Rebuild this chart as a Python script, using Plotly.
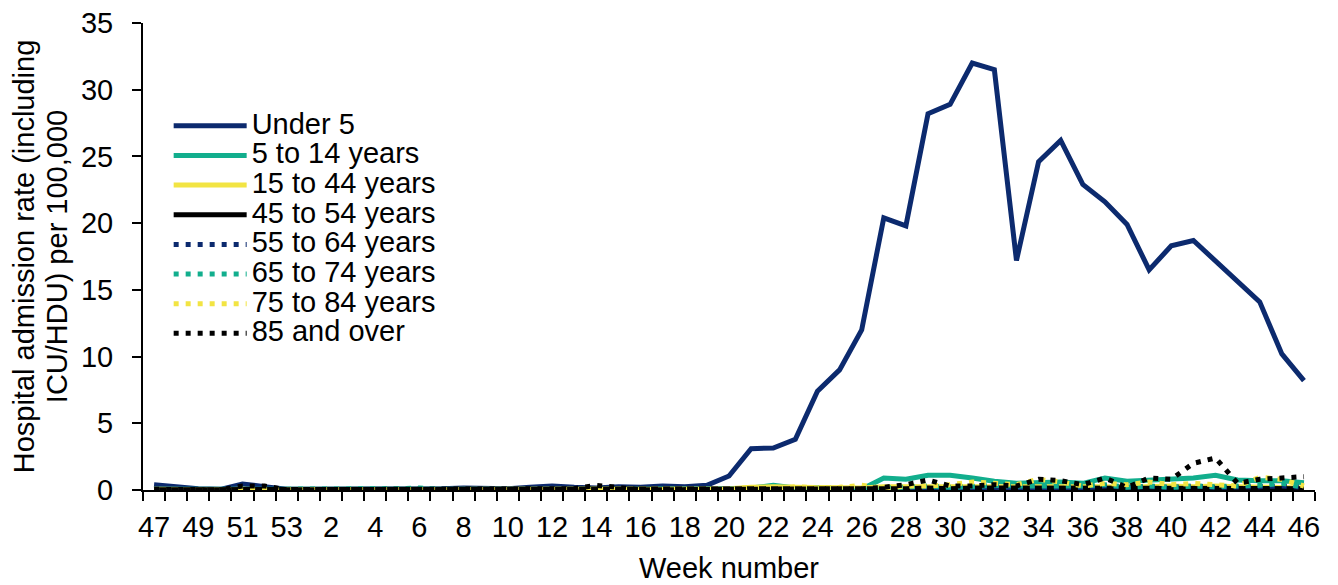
import plotly.graph_objects as go

# ---- data -------------------------------------------------------------
weeks = [str(w) for w in [47, 48, 49, 50, 51, 52, 53,
                          1, 2, 3, 4, 5, 6, 7, 8, 9, 10, 11, 12, 13, 14, 15, 16, 17, 18, 19,
                          20, 21, 22, 23, 24, 25, 26, 27, 28, 29, 30, 31, 32, 33, 34, 35, 36,
                          37, 38, 39, 40, 41, 42, 43, 44, 45, 46]]

tick_labels = ["47", "", "49", "", "51", "", "53",
               "", "2", "", "4", "", "6", "", "8", "", "10", "", "12", "", "14", "", "16", "", "18", "",
               "20", "", "22", "", "24", "", "26", "", "28", "", "30", "", "32", "", "34", "", "36",
               "", "38", "", "40", "", "42", "", "44", "", "46"]

under5 = [0.40, 0.25, 0.10, 0.05, 0.45, 0.25, 0.05,
          0.05, 0.05, 0.05, 0.05, 0.05, 0.05, 0.10, 0.15, 0.10, 0.10, 0.20, 0.30, 0.20, 0.15, 0.25, 0.20, 0.30, 0.25, 0.35,
          1.05, 3.10, 3.15, 3.80, 7.40, 9.00, 12.00, 20.40, 19.80, 28.20, 28.90, 32.00, 31.50, 17.20, 24.60, 26.20, 22.90,
          21.60, 19.90, 16.50, 18.30, 18.70, 17.20, 15.60, 14.10, 10.20, 8.20]

age5_14 = [0.05, 0.05, 0.02, 0.02, 0.05, 0.05, 0.02,
           0.02, 0.02, 0.02, 0.02, 0.05, 0.08, 0.05, 0.02, 0.02, 0.02, 0.05, 0.05, 0.02, 0.02, 0.05, 0.05, 0.05, 0.05, 0.05,
           0.05, 0.15, 0.35, 0.15, 0.10, 0.12, 0.05, 0.90, 0.80, 1.10, 1.10, 0.90, 0.65, 0.50, 0.55, 0.60, 0.50,
           0.90, 0.65, 0.75, 0.80, 0.90, 1.10, 0.75, 0.70, 0.70, 0.55]

age15_44 = [0.05, 0.02, 0.02, 0.02, 0.05, 0.02, 0.02,
            0.02, 0.02, 0.02, 0.02, 0.02, 0.02, 0.02, 0.02, 0.02, 0.02, 0.02, 0.02, 0.02, 0.05, 0.02, 0.02, 0.05, 0.05, 0.05,
            0.10, 0.20, 0.25, 0.20, 0.20, 0.20, 0.15, 0.25, 0.25, 0.30, 0.30, 0.30, 0.30, 0.25, 0.30, 0.30, 0.30,
            0.25, 0.20, 0.25, 0.30, 0.25, 0.30, 0.25, 0.20, 0.15, 0.15]

age45_54 = [0.02, 0.02, 0.02, 0.02, 0.02, 0.02, 0.02,
            0.02, 0.02, 0.02, 0.02, 0.02, 0.02, 0.02, 0.02, 0.02, 0.02, 0.02, 0.02, 0.02, 0.02, 0.02, 0.02, 0.02, 0.02, 0.02,
            0.02, 0.05, 0.05, 0.05, 0.05, 0.05, 0.05, 0.10, 0.10, 0.15, 0.10, 0.15, 0.15, 0.10, 0.15, 0.15, 0.10,
            0.15, 0.10, 0.15, 0.15, 0.10, 0.15, 0.10, 0.10, 0.10, 0.10]

age55_64 = [0.02, 0.02, 0.02, 0.02, 0.02, 0.02, 0.02,
            0.02, 0.02, 0.02, 0.02, 0.02, 0.02, 0.02, 0.02, 0.02, 0.02, 0.02, 0.02, 0.02, 0.02, 0.02, 0.02, 0.02, 0.02, 0.02,
            0.02, 0.05, 0.05, 0.05, 0.10, 0.05, 0.10, 0.10, 0.15, 0.20, 0.15, 0.20, 0.20, 0.15, 0.20, 0.20, 0.15,
            0.30, 0.20, 0.25, 0.20, 0.30, 0.20, 0.20, 0.25, 0.30, 0.20]

age65_74 = [0.02, 0.02, 0.02, 0.02, 0.02, 0.02, 0.02,
            0.02, 0.02, 0.02, 0.02, 0.10, 0.15, 0.02, 0.02, 0.02, 0.02, 0.02, 0.02, 0.02, 0.02, 0.02, 0.02, 0.02, 0.02, 0.02,
            0.02, 0.05, 0.10, 0.10, 0.15, 0.10, 0.10, 0.15, 0.20, 0.30, 0.20, 0.30, 0.35, 0.30, 0.30, 0.35, 0.30,
            0.40, 0.20, 0.30, 0.20, 0.30, 0.25, 0.30, 0.35, 0.50, 0.20]

age75_84 = [0.02, 0.02, 0.02, 0.02, 0.05, 0.02, 0.02,
            0.02, 0.02, 0.02, 0.02, 0.02, 0.02, 0.02, 0.02, 0.02, 0.02, 0.02, 0.02, 0.02, 0.05, 0.02, 0.02, 0.02, 0.02, 0.02,
            0.05, 0.20, 0.10, 0.25, 0.15, 0.20, 0.35, 0.10, 0.30, 0.30, 0.40, 0.60, 0.50, 0.40, 0.80, 0.60, 0.30,
            0.50, 0.40, 0.60, 0.40, 0.50, 0.40, 0.30, 0.95, 0.80, 0.30]

age85_over = [0.05, 0.02, 0.02, 0.02, 0.30, 0.30, 0.02,
              0.02, 0.02, 0.02, 0.02, 0.02, 0.02, 0.02, 0.02, 0.02, 0.02, 0.02, 0.02, 0.10, 0.35, 0.20, 0.02, 0.02, 0.02, 0.02,
              0.05, 0.02, 0.05, 0.02, 0.10, 0.05, 0.10, 0.20, 0.40, 0.75, 0.30, 0.30, 0.40, 0.30, 0.80, 0.70, 0.40,
              0.90, 0.20, 0.90, 0.80, 2.00, 2.40, 0.50, 0.80, 0.90, 1.00]

series_names = ["Under 5", "5 to 14 years", "15 to 44 years", "45 to 54 years",
                "55 to 64 years", "65 to 74 years", "75 to 84 years", "85 and over"]
series_values = [under5, age5_14, age15_44, age45_54, age55_64, age65_74, age75_84, age85_over]

y_title_lines = ["Hospital admission rate (including", "ICU/HDU) per 100,000"]
x_title = "Week number"

# ---- styling ------------------------------------------------------------
NAVY = "#0C2A6E"
TEAL = "#12AE8D"
YELLOW = "#F2E443"
BLACK = "#000000"
colors = [NAVY, TEAL, YELLOW, BLACK, NAVY, TEAL, YELLOW, BLACK]
dashes = ["solid", "solid", "solid", "solid", "5px,7px", "5px,7px", "5px,7px", "5px,7px"]
FONT = "Liberation Sans, Arial, sans-serif"
FS = 29


def big(txt, size=FS):
    return '<span style="font-size:%gpx">%s</span>' % (size, txt)


fig = go.Figure()
for name, vals, col, dash in zip(series_names, series_values, colors, dashes):
    fig.add_trace(go.Scatter(
        x=weeks, y=vals, mode="lines",
        name=big(name),
        line=dict(color=col, width=5, dash=dash),
    ))

# the page body keeps its default 8px margin, so the figure is drawn 8px smaller
fig.update_layout(
    width=1330, height=577,
    margin=dict(l=135, r=23, t=15, b=95, autoexpand=False),
    paper_bgcolor="white", plot_bgcolor="white",
    font=dict(family=FONT, size=FS, color="black"),
    showlegend=True,
    legend=dict(
        x=0.0219, y=0.8223, xanchor="left", yanchor="top",
        font=dict(family=FONT, size=20.5, color="black"),
        itemwidth=73, bgcolor="rgba(0,0,0,0)", borderwidth=0,
        tracegroupgap=0,
    ),
)

fig.update_xaxes(
    type="category", categoryorder="array", categoryarray=weeks,
    range=[-0.5, len(weeks) - 0.5],
    tickmode="array", tickvals=weeks, ticktext=tick_labels,
    tickson="boundaries", ticks="outside", ticklen=9, tickwidth=2, tickcolor="black",
    showline=True, linecolor="black", linewidth=2,
    showgrid=False, zeroline=False, automargin=False,
    tickfont=dict(family=FONT, size=FS, color="black"),
    tickangle=0, ticklabelstandoff=10, ticklabeloverflow="allow",
    title=dict(text=x_title, font=dict(family=FONT, size=FS, color="black"), standoff=16),
)

fig.update_yaxes(
    range=[0, 35], dtick=5, tick0=0,
    ticks="outside", ticklen=9, tickwidth=2, tickcolor="black",
    showline=True, linecolor="black", linewidth=2,
    showgrid=False, zeroline=False, automargin=False,
    ticklabelstandoff=13, ticklabeloverflow="allow",
    tickfont=dict(family=FONT, size=FS, color="black"),
    title=dict(text=big(y_title_lines[0]) + "<br>" + big(y_title_lines[1]),
               font=dict(family=FONT, size=25.7, color="black"), standoff=10),
)

fig.write_html("out.html")
